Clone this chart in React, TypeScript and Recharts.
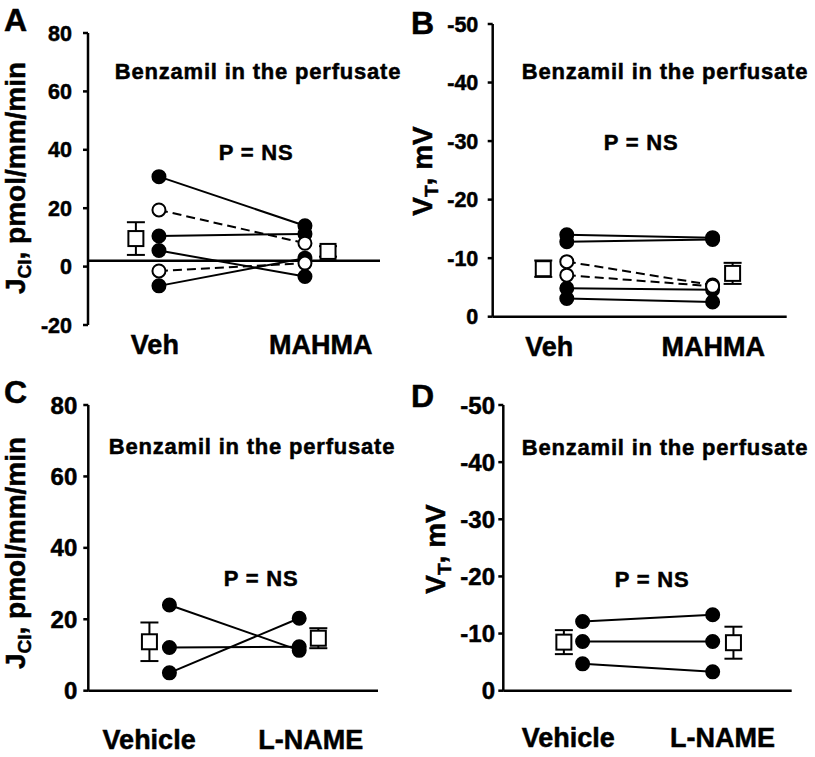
import React from "react";
import { ErrorBar, ReferenceLine, Scatter, ScatterChart, XAxis, YAxis } from "recharts";

// A: Cl flux, Veh vs MAHMA (pmol/mm/min)
const A_GROUPS = ["Veh", "MAHMA"];
const A_TICKS = [-20, 0, 20, 40, 60, 80];
const A_VEH_FILLED = [30.8, 10.5, 5.5, -6.6];
const A_MAHMA_FILLED = [14.0, 11.2, -3.4, 2.9];
const A_VEH_OPEN = [19.4, -1.5];
const A_MAHMA_OPEN = [8.0, 1.2];
const A_MEAN = [9.6, 5.2];
const A_SEM = [5.6, 1.8];

// B: transepithelial voltage, Veh vs MAHMA (mV)
const B_GROUPS = ["Veh", "MAHMA"];
const B_TICKS = [-50, -40, -30, -20, -10, 0];
const B_VEH_FILLED = [-14.0, -12.8, -4.85, -3.1];
const B_MAHMA_FILLED = [-13.5, -13.2, -4.6, -2.5];
const B_VEH_OPEN = [-9.4, -7.1];
const B_MAHMA_OPEN = [-5.4, -5.2];
const B_MEAN = [-8.2, -7.4];
const B_SEM = [1.4, 1.8];

// C: Cl flux, Vehicle vs L-NAME
const C_GROUPS = ["Vehicle", "L-NAME"];
const C_TICKS = [0, 20, 40, 60, 80];
const C_VEH = [24.0, 12.1, 5.0];
const C_LNAME = [11.3, 12.3, 20.3];
const C_MEAN = [13.7, 14.7];
const C_SEM = [5.4, 2.8];

// D: voltage, Vehicle vs L-NAME
const D_GROUPS = ["Vehicle", "L-NAME"];
const D_TICKS = [-50, -40, -30, -20, -10, 0];
const D_VEH = [-12.1, -8.6, -4.7];
const D_LNAME = [-13.3, -8.6, -3.3];
const D_MEAN = [-8.5, -8.4];
const D_SEM = [2.1, 2.8];

const FONT = '"Liberation Sans", Arial, sans-serif';

const pairs = (a: number[], b: number[], xa: number, xb: number) =>
  a.map((v, i) => [
    { x: xa, y: v },
    { x: xb, y: b[i] },
  ]);

const filledDot = (p: any) => (
  <circle cx={p.cx} cy={p.cy} r={6.5} fill="#000" stroke="#000" strokeWidth={2} />
);
const openDot = (p: any) => (
  <circle cx={p.cx} cy={p.cy} r={6.5} fill="#fff" stroke="#000" strokeWidth={2} />
);
const meanSquare = (p: any) => (
  <rect x={p.cx - 7.5} y={p.cy - 7.5} width={15} height={15} fill="#fff" stroke="#000" strokeWidth={2} />
);

type PanelProps = {
  left: number;
  top: number;
  width: number;
  height: number;
  margin: { top: number; right: number; bottom: number; left: number };
  domain: [number, number];
  ticks: number[];
  reversed?: boolean;
  pos: number[]; // mean-left, points-left, points-right, mean-right (x domain 0..100)
  labelPos: number[];
  groups: string[];
  solid: { x: number; y: number }[][];
  dashed: { x: number; y: number }[][];
  mean: number[];
  sem: number[];
  axisAt?: number;
  yTickMargin: number;
  yTickFont: number;
  xTickMargin: number;
};

const heavy = { stroke: "#000", strokeWidth: 0.5 };

function Panel(props: PanelProps) {
  const { pos, mean, sem, groups, labelPos } = props;
  const means = [
    { x: pos[0], y: mean[0], err: sem[0] },
    { x: pos[3], y: mean[1], err: sem[1] },
  ];
  return (
    <div style={{ position: "absolute", left: props.left, top: props.top }}>
      <ScatterChart width={props.width} height={props.height} margin={props.margin}>
        <XAxis
          type="number"
          dataKey="x"
          domain={[0, 100]}
          ticks={labelPos}
          interval={0}
          tickFormatter={(v) => groups[labelPos.indexOf(v)] ?? ""}
          tickLine={false}
          tickSize={0}
          tickMargin={props.xTickMargin}
          axisLine={props.axisAt === undefined ? { stroke: "#000", strokeWidth: 2.5 } : false}
          height={40}
          tick={{ fill: "#000", fontSize: 27, fontWeight: 700, fontFamily: FONT, ...heavy }}
          allowDataOverflow
        />
        <YAxis
          type="number"
          dataKey="y"
          domain={props.domain}
          ticks={props.ticks}
          interval={0}
          reversed={props.reversed}
          width={60}
          tickSize={5}
          tickMargin={props.yTickMargin}
          axisLine={{ stroke: "#000", strokeWidth: 2.5 }}
          tickLine={{ stroke: "#000", strokeWidth: 2.5 }}
          tick={{ fill: "#000", fontSize: props.yTickFont, fontWeight: 700, fontFamily: FONT, ...heavy }}
          allowDataOverflow
        />
        {props.axisAt !== undefined && (
          <ReferenceLine y={props.axisAt} stroke="#000" strokeWidth={2.5} />
        )}
        {props.solid.map((d, i) => (
          <Scatter
            key={"s" + i}
            data={d}
            fill="#000"
            line={{ stroke: "#000", strokeWidth: 2 }}
            shape={filledDot}
            isAnimationActive={false}
          />
        ))}
        {props.dashed.map((d, i) => (
          <Scatter
            key={"d" + i}
            data={d}
            fill="#000"
            line={{ stroke: "#000", strokeWidth: 2, strokeDasharray: "9 5" }}
            shape={openDot}
            isAnimationActive={false}
          />
        ))}
        <Scatter data={means} fill="#fff" shape={meanSquare} isAnimationActive={false}>
          <ErrorBar dataKey="err" direction="y" width={9} stroke="#000" strokeWidth={2} />
        </Scatter>
      </ScatterChart>
    </div>
  );
}

function Txt({ x, y, size, children, spacing = 0 }: any) {
  return (
    <div
      style={{
        position: "absolute",
        left: x,
        top: y,
        transform: "translate(-50%, -50%)",
        fontSize: size,
        lineHeight: 1,
        whiteSpace: "nowrap",
        letterSpacing: spacing,
        WebkitTextStroke: "0.5px #000",
      }}
    >
      {children}
    </div>
  );
}

function VLabel({ x, y, main, sub, rest }: any) {
  return (
    <div
      style={{
        position: "absolute",
        left: x,
        top: y,
        transform: "translate(-50%, -50%) rotate(-90deg)",
        fontSize: 28,
        lineHeight: 1,
        whiteSpace: "nowrap",
        WebkitTextStroke: "0.5px #000",
      }}
    >
      {main}
      <span style={{ fontSize: "0.68em", verticalAlign: "-0.3em", lineHeight: 0 }}>{sub}</span>
      {rest}
    </div>
  );
}

export default function App() {
  return (
    <div
      style={{
        position: "absolute",
        left: 0,
        top: 0,
        width: 815,
        height: 757,
        background: "#fff",
        color: "#000",
        fontFamily: FONT,
        fontWeight: 700,
      }}
    >
      <Panel
        left={0}
        top={0}
        width={400}
        height={370}
        margin={{ top: 33, right: 20, bottom: 5, left: 28 }}
        domain={[-20, 80]}
        ticks={A_TICKS}
        pos={[16.4, 24.3, 74.3, 82.2]}
        labelPos={[22.9, 79.7]}
        groups={A_GROUPS}
        solid={pairs(A_VEH_FILLED, A_MAHMA_FILLED, 24.3, 74.3)}
        dashed={pairs(A_VEH_OPEN, A_MAHMA_OPEN, 24.3, 74.3)}
        mean={A_MEAN}
        sem={A_SEM}
        axisAt={2}
        yTickMargin={11}
        yTickFont={21.5}
        xTickMargin={10}
      />
      <Panel
        left={400}
        top={0}
        width={415}
        height={370}
        margin={{ top: 24, right: 28.3, bottom: 13.3, left: 32.7 }}
        domain={[-50, 0]}
        ticks={B_TICKS}
        reversed
        pos={[17.2, 25.2, 74.8, 81.6]}
        labelPos={[19.2, 75.0]}
        groups={B_GROUPS}
        solid={pairs(B_VEH_FILLED, B_MAHMA_FILLED, 25.2, 74.8)}
        dashed={pairs(B_VEH_OPEN, B_MAHMA_OPEN, 25.2, 74.8)}
        mean={B_MEAN}
        sem={B_SEM}
        yTickMargin={9.4}
        yTickFont={21.5}
        xTickMargin={20}
      />
      <Panel
        left={0}
        top={370}
        width={400}
        height={387}
        margin={{ top: 35, right: 22, bottom: 26.3, left: 28.3 }}
        domain={[0, 80]}
        ticks={C_TICKS}
        pos={[21.1, 28.0, 72.8, 79.4]}
        labelPos={[21.0, 76.8]}
        groups={C_GROUPS}
        solid={pairs(C_VEH, C_LNAME, 28.0, 72.8)}
        dashed={[]}
        mean={C_MEAN}
        sem={C_SEM}
        yTickMargin={6}
        yTickFont={24}
        xTickMargin={39}
      />
      <Panel
        left={400}
        top={370}
        width={415}
        height={387}
        margin={{ top: 35, right: 23.3, bottom: 26.3, left: 43.3 }}
        domain={[-50, 0]}
        ticks={D_TICKS}
        reversed
        pos={[21.0, 27.5, 72.6, 79.8]}
        labelPos={[22.5, 76.0]}
        groups={D_GROUPS}
        solid={pairs(D_VEH, D_LNAME, 27.5, 72.6)}
        dashed={[]}
        mean={D_MEAN}
        sem={D_SEM}
        yTickMargin={3.3}
        yTickFont={24}
        xTickMargin={37}
      />

      <Txt x={15.5} y={20} size={32}>A</Txt>
      <Txt x={422.5} y={23} size={32}>B</Txt>
      <Txt x={15.5} y={391.7} size={32}>C</Txt>
      <Txt x={422.5} y={396} size={32}>D</Txt>

      <Txt x={258} y={72} size={22} spacing={0.8}>Benzamil in the perfusate</Txt>
      <Txt x={665} y={72} size={22} spacing={0.8}>Benzamil in the perfusate</Txt>
      <Txt x={252} y={446.7} size={22} spacing={0.8}>Benzamil in the perfusate</Txt>
      <Txt x={665} y={448} size={22} spacing={0.8}>Benzamil in the perfusate</Txt>

      <Txt x={256} y={153} size={22} spacing={0.8}>P = NS</Txt>
      <Txt x={641} y={143} size={22} spacing={0.8}>P = NS</Txt>
      <Txt x={261} y={579} size={22} spacing={0.8}>P = NS</Txt>
      <Txt x={652} y={580} size={22} spacing={0.8}>P = NS</Txt>

      <VLabel x={16} y={178} main="J" sub="Cl" rest=", pmol/mm/min" />
      <VLabel x={423} y={170.5} main="V" sub="T" rest=", mV" />
      <VLabel x={15.5} y={553} main="J" sub="Cl" rest=", pmol/mm/min" />
      <VLabel x={436} y={549} main="V" sub="T" rest=", mV" />
    </div>
  );
}
